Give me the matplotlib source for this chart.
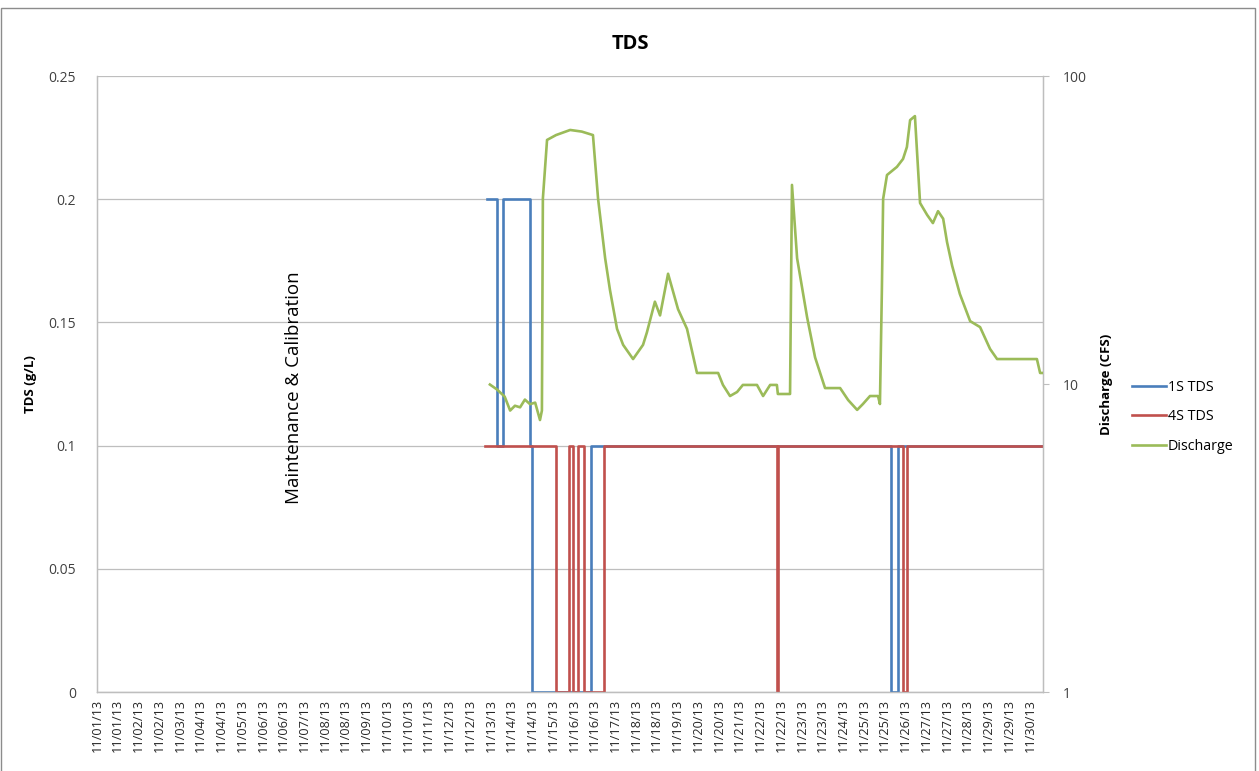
import matplotlib
matplotlib.use("Agg")
import matplotlib.pyplot as plt
from matplotlib.patches import Rectangle
import numpy as np

# ---------------- data ----------------
# x tick labels (category axis, one label every 15.5 hours)
tick_labels = ["11/01/13", "11/01/13", "11/02/13", "11/02/13", "11/03/13", "11/04/13",
               "11/04/13", "11/05/13", "11/06/13", "11/06/13", "11/07/13", "11/08/13",
               "11/08/13", "11/09/13", "11/10/13", "11/10/13", "11/11/13", "11/12/13",
               "11/12/13", "11/13/13", "11/14/13", "11/14/13", "11/15/13", "11/16/13",
               "11/16/13", "11/17/13", "11/18/13", "11/18/13", "11/19/13", "11/20/13",
               "11/20/13", "11/21/13", "11/22/13", "11/22/13", "11/23/13", "11/23/13",
               "11/24/13", "11/25/13", "11/25/13", "11/26/13", "11/27/13", "11/27/13",
               "11/28/13", "11/29/13", "11/29/13", "11/30/13"]
label_step_days = 0.6458
end_day = 29.47

# 1S TDS (g/L): change points (days since 11/01 00:00), step-post values
tds1_days = [12.15, 12.46, 12.65, 13.49, 13.55, 15.39, 24.73, 24.95, 29.47]
tds1_vals = [0.2, 0.1, 0.2, 0.1, 0.0, 0.1, 0.0, 0.1, 0.1]

# 4S TDS (g/L)
tds4_days = [12.09, 14.30, 14.70, 14.83, 14.98, 15.17, 15.79, 21.18, 21.21, 25.11, 25.23, 29.47]
tds4_vals = [0.1, 0.0, 0.1, 0.0, 0.1, 0.0, 0.1, 0.0, 0.1, 0.0, 0.1, 0.1]

# Discharge (CFS)
q_days = [12.24, 12.46, 12.70, 12.87, 13.02, 13.18, 13.33, 13.49, 13.65, 13.80, 13.86,
          13.89, 14.02, 14.30, 14.74, 15.10, 15.45, 15.61, 15.83, 15.98, 16.20, 16.39,
          16.70, 17.01, 17.13, 17.38, 17.54, 17.79, 18.10, 18.38, 18.69, 19.35, 19.50,
          19.72, 19.94, 20.12, 20.56, 20.75, 20.97, 21.18, 21.21, 21.59, 21.65, 21.81,
          22.12, 22.37, 22.68, 23.15, 23.40, 23.68, 23.86, 24.08, 24.33, 24.39, 24.45,
          24.49, 24.61, 24.92, 25.11, 25.23, 25.33, 25.48, 25.64, 25.86, 26.04, 26.20,
          26.36, 26.48, 26.64, 26.88, 27.20, 27.51, 27.82, 28.04, 28.38, 29.28, 29.38, 29.47]
q_vals = [9.96, 9.6, 9.1, 8.2, 8.5, 8.4, 8.9, 8.6, 8.7, 7.64, 8.2,
          40.0, 62.0, 64.3, 66.8, 66.0, 64.3, 39.9, 25.6, 20.2, 15.1, 13.4,
          12.05, 13.4, 14.7, 18.5, 16.7, 22.8, 17.5, 15.1, 10.86, 10.86, 9.93,
          9.14, 9.42, 9.93, 9.93, 9.14, 9.93, 9.93, 9.28, 9.28, 44.3, 25.6,
          16.5, 12.2, 9.70, 9.70, 8.87, 8.24, 8.61, 9.14, 9.14, 8.61, 20.0,
          39.9, 47.7, 50.7, 53.8, 58.8, 71.9, 74.1, 38.7, 35.4, 33.3, 36.4,
          34.4, 28.9, 24.2, 19.6, 16.0, 15.3, 13.0, 12.05, 12.05, 12.05, 10.86, 10.86]

# ---------------- style ----------------
c_blue = "#4A7EBB"
c_red = "#C0504D"
c_green = "#9BBB59"
grid_c = "#BEBEBE"
txt_c = "#404040"
font = ["Open Sans", "DejaVu Sans"]
plt.rcParams["font.family"] = font

W, H = 1259, 771
fig = plt.figure(figsize=(W / 100, H / 100), dpi=100)
fig.patch.set_facecolor("white")

L, R, B, T = 97, 1043, 692, 76
ax = fig.add_axes([L / W, (H - B) / H, (R - L) / W, (B - T) / H])
ax2 = ax.twinx()

l1, = ax.plot(tds1_days, tds1_vals, drawstyle="steps-post", color=c_blue, lw=1.9, label="1S TDS", zorder=3)
l2, = ax.plot(tds4_days, tds4_vals, drawstyle="steps-post", color=c_red, lw=1.9, label="4S TDS", zorder=4)
l3, = ax2.plot(q_days, q_vals, color=c_green, lw=1.9, label="Discharge", zorder=5)

ax.set_xlim(0, end_day)
ax.set_ylim(0, 0.25)
ax.set_yticks([0, 0.05, 0.1, 0.15, 0.2, 0.25])
ax.set_yticklabels(["0", "0.05", "0.1", "0.15", "0.2", "0.25"])
ax.yaxis.grid(True, color=grid_c, lw=0.9)
ax.set_axisbelow(True)

ax2.set_yscale("log")
ax2.set_ylim(1, 100)
ax2.set_yticks([1, 10, 100])
ax2.set_yticklabels(["1", "10", "100"])
ax2.minorticks_off()

xt = np.arange(len(tick_labels)) * label_step_days
ax.set_xticks(xt)
ax.set_xticklabels(tick_labels, rotation=90, fontsize=9.1, color="#262626")
ax.tick_params(axis="x", length=0, pad=5)
ax.tick_params(axis="y", length=0, labelsize=10, labelcolor=txt_c, pad=15)
ax2.tick_params(axis="y", length=4, color=grid_c, labelsize=10, labelcolor=txt_c, pad=10)

for a in (ax, ax2):
    for s in a.spines.values():
        s.set_color(grid_c)
        s.set_linewidth(0.9)
    a.spines["top"].set_visible(False)

ax.set_ylabel("TDS (g/L)", fontsize=9.5, fontweight="bold", color="black", labelpad=8)
ax2.set_ylabel("Discharge (CFS)", fontsize=9.5, fontweight="bold", color="black", labelpad=10)

fig.text(630 / W, 1 - 44 / H, "TDS", ha="center", va="center", fontsize=14.5, fontweight="bold")
fig.text(294 / W, 1 - 388 / H, "Maintenance & Calibration", rotation=90,
         ha="center", va="center", fontsize=13.5, color="black")

fig.legend(handles=[l1, l2, l3], loc="center left", bbox_to_anchor=(1132 / W, 1 - 417 / H),
           frameon=False, fontsize=10.3, handlelength=2.4, handletextpad=0.1, labelspacing=1.0,
           borderaxespad=0, borderpad=0)

# chart border (bottom edge lies outside the picture)
fig.patches.append(Rectangle((0.5 / W, -10 / H), (W - 5) / W, (H + 2) / H, transform=fig.transFigure,
                             fill=False, edgecolor="#8C8C8C", lw=1.0))

fig.savefig("out.png", dpi=100, facecolor="white")
